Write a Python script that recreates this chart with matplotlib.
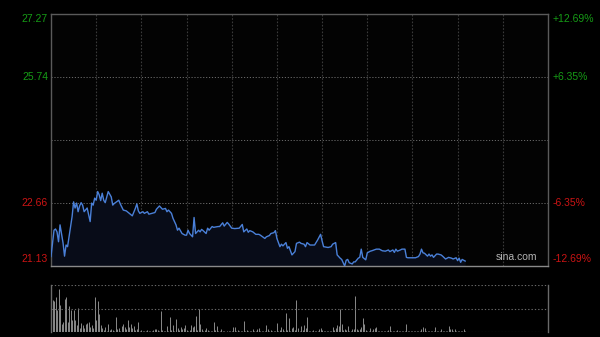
import matplotlib
matplotlib.use("Agg")
import matplotlib.pyplot as plt
import numpy as np

# ---- data (minutes from 09:30, HK session: 330 trading minutes) ----
prev_close = 24.20
y_min, y_max = 21.13, 27.27
session_minutes = 330

price_minutes = [0, 2, 3, 4, 5, 6, 8, 9, 10, 11, 13, 14, 15, 16, 17, 18, 19, 20, 21, 22,
                 24, 25, 26, 27, 28, 29, 30, 31, 32, 33, 34, 35, 36, 38, 40, 41, 42, 45, 46, 48,
                 50, 52, 54, 56, 57, 58, 59, 61, 62, 64, 65, 67, 69, 70, 72, 74, 76, 77, 78, 80,
                 81, 83, 84, 85, 87, 89, 90, 91, 92, 94, 95, 96, 98, 99, 100, 101, 103, 104, 105, 107,
                 108, 111, 112, 114, 115, 117, 118, 120, 122, 125, 127, 128, 130, 131, 132, 134, 136, 138, 139, 142,
                 143, 145, 146, 148, 149, 150, 152, 153, 154, 156, 157, 158, 160, 162, 163, 165, 166, 168, 169, 170,
                 172, 174, 175, 177, 179, 180, 181, 184, 186, 187, 189, 190, 192, 193, 195, 196, 197, 198, 200, 201,
                 202, 204, 205, 206, 207, 209, 210, 212, 213, 216, 218, 220, 222, 224, 225, 227, 228, 229, 230, 232,
                 233, 235, 236, 237, 240, 242, 244, 245, 246, 247, 248, 250, 251, 252, 253, 254, 256, 257, 259, 260,
                 262, 263, 264, 266, 267, 269, 270, 271, 272, 273, 275]
prices = [21.36, 22.00, 22.03, 21.96, 21.72, 22.13, 21.69, 21.37, 21.64, 21.60, 22.09, 22.33, 22.69, 22.54, 22.66, 22.45, 22.59, 22.67, 22.61, 22.45,
          22.54, 22.37, 22.21, 22.66, 22.61, 22.78, 22.73, 22.94, 22.86, 22.72, 22.90, 22.73, 22.67, 22.94, 22.81, 22.61, 22.65, 22.73, 22.64, 22.49,
          22.47, 22.41, 22.35, 22.53, 22.64, 22.47, 22.41, 22.45, 22.41, 22.45, 22.39, 22.41, 22.43, 22.51, 22.59, 22.51, 22.53, 22.45, 22.49, 22.41,
          22.29, 22.13, 22.00, 22.05, 21.92, 21.88, 21.88, 22.00, 21.92, 21.84, 22.31, 21.92, 22.00, 21.96, 22.02, 21.99, 21.92, 22.05, 22.00, 22.09,
          22.07, 22.09, 22.09, 22.18, 22.10, 22.19, 22.15, 22.05, 22.04, 22.05, 22.14, 21.96, 22.03, 21.95, 21.99, 21.96, 21.90, 21.90, 21.88, 21.80,
          21.84, 21.87, 21.92, 21.94, 21.99, 21.80, 21.60, 21.66, 21.62, 21.70, 21.56, 21.60, 21.40, 21.48, 21.68, 21.71, 21.68, 21.66, 21.60, 21.70,
          21.64, 21.64, 21.64, 21.76, 21.90, 21.74, 21.60, 21.58, 21.60, 21.66, 21.70, 21.40, 21.32, 21.29, 21.13, 21.27, 21.29, 21.21, 21.18, 21.23,
          21.23, 21.32, 21.34, 21.54, 21.34, 21.28, 21.45, 21.49, 21.50, 21.54, 21.54, 21.50, 21.49, 21.52, 21.48, 21.52, 21.46, 21.54, 21.49, 21.52,
          21.54, 21.54, 21.34, 21.33, 21.33, 21.33, 21.36, 21.42, 21.54, 21.45, 21.44, 21.37, 21.42, 21.37, 21.40, 21.34, 21.42, 21.42, 21.40, 21.37,
          21.30, 21.32, 21.34, 21.32, 21.30, 21.33, 21.26, 21.32, 21.22, 21.29, 21.25]

volumes = [92, 68, 65, 75, 47, 91, 57, 18, 22, 70, 74, 22, 55, 47, 26, 47, 26, 15, 52, 8,
           20, 15, 8, 18, 20, 22, 11, 15, 8, 74, 26, 65, 38, 15, 8, 4, 10, 3, 17, 4,
           6, 4, 3, 31, 6, 8, 3, 13, 18, 11, 6, 26, 11, 18, 8, 13, 4, 6, 21, 3,
           4, 3, 2, 3, 4, 2, 3, 3, 4, 6, 6, 4, 3, 45, 4, 3, 2, 13, 3, 31,
           4, 15, 3, 27, 8, 4, 10, 6, 8, 15, 4, 3, 4, 15, 11, 13, 34, 4, 50, 17,
           6, 3, 4, 8, 4, 2, 3, 3, 22, 4, 13, 3, 2, 6, 2, 3, 1, 2, 3, 2,
           3, 10, 11, 3, 4, 2, 3, 2, 24, 3, 4, 2, 3, 2, 6, 3, 2, 6, 8, 3,
           2, 3, 2, 15, 6, 3, 4, 2, 3, 2, 20, 3, 4, 11, 6, 3, 40, 4, 29, 3,
           8, 10, 4, 68, 8, 3, 13, 4, 15, 8, 31, 3, 2, 3, 4, 2, 3, 2, 6, 8,
           4, 2, 3, 2, 3, 2, 3, 11, 4, 8, 15, 13, 50, 17, 4, 6, 4, 13, 3, 3,
           6, 6, 76, 6, 4, 6, 10, 29, 17, 4, 3, 2, 8, 3, 6, 8, 10, 3, 3, 2,
           3, 2, 3, 2, 4, 13, 3, 2, 3, 2, 4, 2, 3, 2, 3, 2, 17, 3, 2, 3,
           2, 3, 2, 3, 2, 3, 6, 10, 8, 3, 2, 3, 2, 3, 2, 11, 3, 2, 3, 6,
           2, 3, 2, 3, 13, 6, 6, 3, 7, 2, 3, 2, 3, 2, 6, 2]

left_labels = ["27.27", "25.74", "", "22.66", "21.13"]
right_labels = ["+12.69%", "+6.35%", "", "-6.35%", "-12.69%"]

# ---- figure ----
plt.rcParams['font.family'] = ['Liberation Sans', 'DejaVu Sans']
W, H = 600, 337
fig = plt.figure(figsize=(W / 100, H / 100), dpi=100, facecolor='#000000')

ax = fig.add_axes([51 / W, (H - 266) / H, 497 / W, 252.5 / H], facecolor='#030303')
axv = fig.add_axes([51 / W, (H - 332) / H, 497 / W, 47 / H], facecolor='#000000')

GREEN = '#169c16'
RED = '#cc1414'

levels = np.linspace(y_max, y_min, 5)

# price line
pm = np.array(price_minutes)
pp = np.array(prices)
ax.fill_between(pm, pp, y_min, color='#080c18', lw=0, zorder=1)
ax.plot(pm, pp, color='#4a80d8', lw=1.0, zorder=3)

ax.set_xlim(0, session_minutes)
ax.set_ylim(y_min, y_max)
ax.set_xticks([])
ax.set_yticks([])

for m in range(30, session_minutes, 30):
    ax.axvline(m, color='#3a3a3a', lw=0.8, ls=(0, (1.5, 1.5)), zorder=0)
for lv in levels[1:-1]:
    ax.axhline(lv, color='#6a6a6a', lw=0.7, ls=(0, (1.2, 1.8)), zorder=0)

for side in ['left', 'top', 'right']:
    ax.spines[side].set_color('#5a5a5a')
    ax.spines[side].set_linewidth(1.0)
ax.spines['bottom'].set_color('#8a8a8a')
ax.spines['bottom'].set_linewidth(1.0)

for i, (lv, ll, rl) in enumerate(zip(levels, left_labels, right_labels)):
    if not ll:
        continue
    col = GREEN if lv > prev_close else RED
    va = 'center'
    if i == 0:
        va = 'top'
    elif i == len(levels) - 1:
        va = 'bottom'
    yoff = {'top': -1 / 252.5, 'bottom': 2 / 252.5, 'center': 0}[va]
    ax.text(-3 / 497, (lv - y_min) / (y_max - y_min) + yoff, ll, transform=ax.transAxes,
            ha='right', va=va, color=col, fontsize=7.5)
    ax.text(1 + 5 / 497, (lv - y_min) / (y_max - y_min) + yoff, rl, transform=ax.transAxes,
            ha='left', va=va, color=col, fontsize=7.5)

ax.text(1 - 11 / 497, 4 / 252.5, 'sina.com', transform=ax.transAxes, ha='right', va='bottom',
        color='#b4b4b4', fontsize=7.5, zorder=4)

# volume panel
vm = np.arange(len(volumes))
axv.vlines(vm, 0, volumes, colors='#8a8a8a', lw=0.7)
axv.set_xlim(0, session_minutes)
axv.set_ylim(0, 100)
axv.set_xticks([])
axv.set_yticks([])
axv.axhline(50, color='#6a6a6a', lw=0.8, ls=(0, (1.2, 1.8)))
axv.axhline(99.5, color='#6a6a6a', lw=0.8, ls=(0, (1.2, 1.8)))
axv.axhline(0.5, color='#6a6a6a', lw=0.8, ls=(0, (1.2, 1.8)))
for side in ['top', 'bottom']:
    axv.spines[side].set_visible(False)
for side in ['left', 'right']:
    axv.spines[side].set_color('#6a6a6a')
    axv.spines[side].set_linewidth(1.0)

fig.savefig('out.png', dpi=100, facecolor='#000000')
